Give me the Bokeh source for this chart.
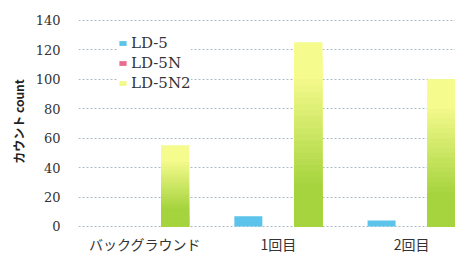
from bokeh.plotting import figure
from bokeh.models import ColumnDataSource, Range1d, FixedTicker, Legend, LegendItem
from bokeh.transform import dodge
from bokeh.embed import file_html
from bokeh.resources import INLINE

groups = ["バックグラウンド", "1回目", "2回目"]
ld5 = [0, 7, 4]
ld5n = [0, 0, 0]
ld5n2 = [55, 125, 100]
series_names = ["LD-5", "LD-5N", "LD-5N2"]
y_ticks = [0, 20, 40, 60, 80, 100, 120, 140]

xs = list(range(len(groups)))
src = ColumnDataSource(dict(x=xs, ld5=ld5, ld5n=ld5n, ld5n2=ld5n2))

p = figure(frame_width=377, frame_height=214, output_backend="svg", toolbar_location=None,
           x_range=Range1d(-0.5, 2.33), y_range=Range1d(-1.4, 144),
           min_border_left=78, min_border_right=0, min_border_top=14, min_border_bottom=0)
p.outline_line_color = None
p.background_fill_color = "white"
p.border_fill_color = "white"

off = 0.225
bw = 0.21
r1 = p.vbar(x=dodge('x', -off), top='ld5', width=bw, source=src, fill_color="#5cc3ea", line_color=None)
r2 = p.vbar(x=dodge('x', 0), top='ld5n', width=bw, source=src, fill_color="#ea6d8f", line_color=None)
r3 = p.vbar(x=dodge('x', off), top='ld5n2', width=bw, source=src, fill_color="#f2f98a", line_color=None)

# gradient overlay for LD-5N2 bars (green bottom -> yellow top), drawn tallest first
K = 30
c0 = (165, 212, 62)
c1 = (246, 251, 142)
for k in range(K - 1, -1, -1):
    f0 = k / K
    f1 = (k + 1) / K
    t = min(1.0, max(0.0, (f0 - 0.2) / 0.6))
    col = "#%02x%02x%02x" % tuple(int(c0[i] + (c1[i] - c0[i]) * t) for i in range(3))
    s = ColumnDataSource(dict(x=xs, t=[v * f1 for v in ld5n2]))
    p.vbar(x=dodge('x', off), bottom=0, top='t', width=bw, source=s, fill_color=col, line_color=None)

p.xgrid.grid_line_color = None
p.ygrid.grid_line_color = "#a9bcc6"
p.ygrid.grid_line_dash = "2 2"
p.ygrid.grid_line_width = 1
p.ygrid.ticker = FixedTicker(ticks=y_ticks)

p.yaxis.ticker = FixedTicker(ticks=y_ticks)
p.yaxis.axis_line_color = None
p.yaxis.major_tick_line_color = None
p.yaxis.minor_tick_line_color = None
p.yaxis.major_label_text_font = "DejaVu Serif"
p.yaxis.major_label_text_font_size = "13px"
p.yaxis.major_label_text_color = "#333333"
p.yaxis.major_label_standoff = 12
p.yaxis.axis_label = "カウント count"
p.yaxis.axis_label_text_font = "Noto Sans CJK JP"
p.yaxis.axis_label_text_font_style = "bold"
p.yaxis.axis_label_text_font_size = "12px"
p.yaxis.axis_label_text_color = "#222222"
p.yaxis.axis_label_standoff = 6

p.xaxis.ticker = FixedTicker(ticks=xs)
p.xaxis.major_label_overrides = {i: g for i, g in zip(xs, groups)}
p.xaxis.axis_line_color = None
p.xaxis.major_tick_line_color = None
p.xaxis.minor_tick_line_color = None
p.xaxis.major_tick_in = 0
p.xaxis.major_tick_out = 0
p.xaxis.major_label_text_font = "Noto Sans CJK JP"
p.xaxis.major_label_text_font_size = "14px"
p.xaxis.major_label_text_color = "#333333"
p.xaxis.major_label_standoff = 5

legend = Legend(items=[LegendItem(label=series_names[0], renderers=[r1]),
                       LegendItem(label=series_names[1], renderers=[r2]),
                       LegendItem(label=series_names[2], renderers=[r3])],
                location=(40, 136))
legend.label_text_font = "DejaVu Serif"
legend.label_text_font_size = "15px"
legend.label_text_color = "#333333"
legend.glyph_width = 9
legend.glyph_height = 6
legend.label_height = 16
legend.label_standoff = 4
legend.spacing = 2
legend.padding = 2
legend.margin = 0
legend.border_line_color = None
legend.background_fill_alpha = 1.0
p.add_layout(legend)

open("out.html", "w").write(file_html(p, INLINE))
